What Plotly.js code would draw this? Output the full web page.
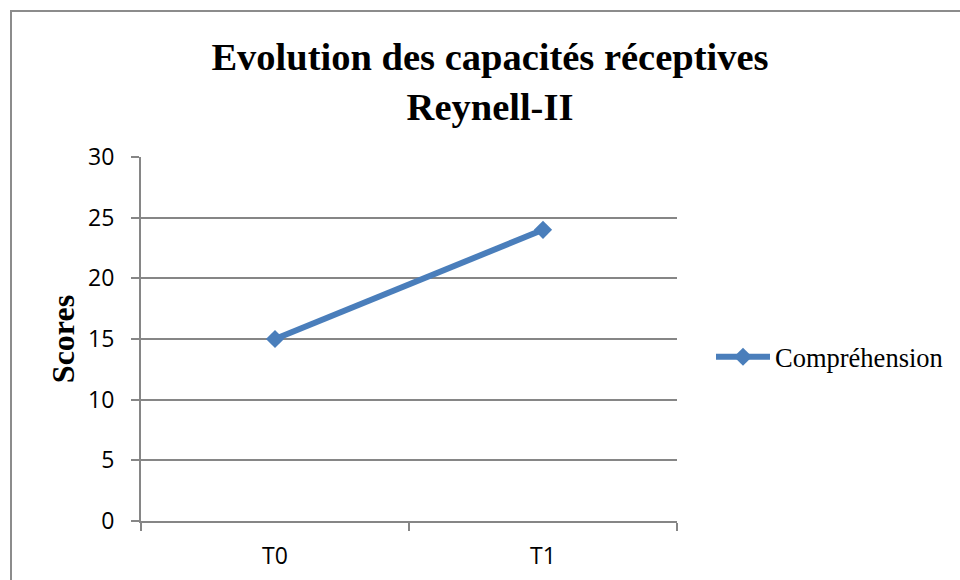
<!DOCTYPE html>
<html>
<head>
<meta charset="utf-8">
<script src="https://cdn.plot.ly/plotly-3.0.1.min.js"></script>
<style>
  html, body { margin: 0; padding: 0; background: #ffffff; overflow: hidden; }
  #chart { width: 960px; height: 580px; }
  #frame { position: absolute; left: 10px; top: 10px; width: 1000px; height: 620px;
           border: 2px solid #8c8c8c; pointer-events: none; box-sizing: border-box; }
</style>
</head>
<body>
<div id="chart"></div>
<div id="frame"></div>
<script>
const categories = ["T0", "T1"];
const seriesName = "Compréhension";
const seriesValues = [15, 24];
const yTickValues = [0, 5, 10, 15, 20, 25, 30];

const trace = {
  type: "scatter",
  mode: "lines+markers",
  name: seriesName,
  x: categories,
  y: seriesValues,
  line: { color: "#4a7ebb", width: 6 },
  marker: { symbol: "diamond", size: 14, color: "#4a7ebb" },
  showlegend: true
};

const layout = {
  width: 960,
  height: 580,
  paper_bgcolor: "#ffffff",
  plot_bgcolor: "#ffffff",
  margin: { l: 141, r: 283, t: 157, b: 59 },
  title: {
    text: "Evolution des capacités réceptives<br>Reynell-II",
    font: { family: "Liberation Serif, Times New Roman, serif", size: 38.5, color: "#000000", weight: "bold" },
    xref: "container", x: 490 / 960, xanchor: "center",
    yref: "container", y: 1 - 70 / 580, yanchor: "top"
  },
  xaxis: {
    type: "category",
    range: [-0.5, 1.5],
    tickson: "boundaries",
    ticks: "outside",
    ticklen: 8,
    tickcolor: "#868686",
    tickwidth: 2,
    showline: true,
    linecolor: "#868686",
    linewidth: 2,
    showgrid: false,
    zeroline: false,
    tickfont: { family: "Open Sans, sans-serif", size: 23, color: "#000000" },
    ticklabelstandoff: 13
  },
  yaxis: {
    range: [0, 30],
    tickvals: yTickValues,
    ticks: "outside",
    ticklen: 8,
    tickcolor: "#868686",
    tickwidth: 2,
    showline: true,
    linecolor: "#868686",
    linewidth: 2,
    showgrid: true,
    gridcolor: "#868686",
    gridwidth: 2,
    zeroline: false,
    tickfont: { family: "Open Sans, sans-serif", size: 23, color: "#000000" },
    ticklabelstandoff: 12,
    title: {
      text: "Scores",
      font: { family: "Liberation Serif, Times New Roman, serif", size: 32, color: "#000000", weight: "bold" },
      standoff: 4
    }
  },
  legend: {
    x: (711 - 141) / 536,
    xanchor: "left",
    y: (521 - 357) / 364,
    yanchor: "middle",
    font: { family: "Liberation Serif, Times New Roman, serif", size: 26.5, color: "#000000" },
    bgcolor: "rgba(0,0,0,0)",
    itemwidth: 54
  }
};

Plotly.newPlot("chart", [trace], layout, { displayModeBar: false, staticPlot: true });
</script>
</body>
</html>
